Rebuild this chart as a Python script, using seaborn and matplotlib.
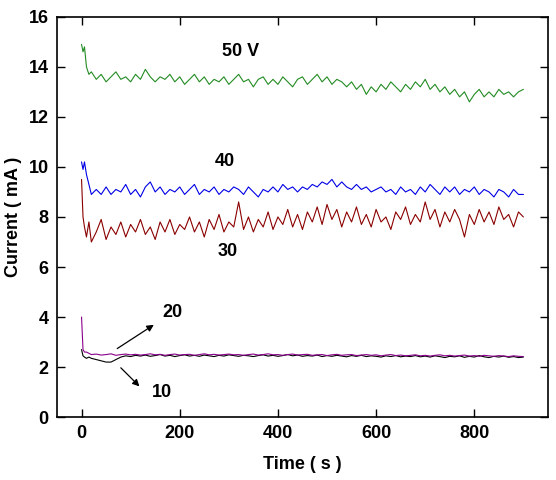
import pandas as pd
import seaborn as sns
import matplotlib.pyplot as plt

# time grid (s): finer at the start-up transient, then every 10 s
time = [0, 3, 6, 10, 15, 20] + list(range(30, 901, 10))

# current (mA)
i_50v = [14.9, 14.6, 14.8, 14.0, 13.7, 13.8,
         13.5, 13.7, 13.4, 13.6, 13.8, 13.5, 13.6, 13.4, 13.7, 13.5,
         13.9, 13.6, 13.4, 13.6, 13.5, 13.7, 13.4, 13.6, 13.3, 13.5,
         13.7, 13.4, 13.6, 13.3, 13.5, 13.4, 13.6, 13.3, 13.5, 13.7,
         13.4, 13.5, 13.2, 13.5, 13.6, 13.3, 13.5, 13.3, 13.6, 13.4,
         13.2, 13.5, 13.6, 13.3, 13.5, 13.7, 13.4, 13.6, 13.3, 13.5,
         13.4, 13.2, 13.4, 13.1, 13.3, 12.9, 13.2, 13.0, 13.3, 13.1,
         13.4, 13.2, 13.0, 13.3, 13.1, 13.4, 13.2, 13.5, 13.1, 13.3,
         13.0, 13.2, 12.9, 13.1, 12.8, 13.0, 12.6, 12.9, 13.1, 12.8,
         13.0, 12.8, 13.1, 12.9, 13.0, 12.8, 13.0, 13.1]
i_40v = [10.2, 9.9, 10.2, 9.7, 9.3, 8.9,
         9.1, 8.9, 9.2, 8.9, 9.1, 9.0, 9.3, 8.9, 9.1, 8.8,
         9.2, 9.4, 9.0, 9.2, 8.9, 9.1, 9.0, 9.2, 8.9, 9.1,
         9.3, 8.9, 9.1, 9.0, 9.2, 8.9, 9.1, 9.0, 9.2, 9.1,
         8.9, 9.2, 9.0, 8.8, 9.1, 9.0, 9.2, 9.0, 9.3, 9.1,
         9.2, 9.0, 9.2, 9.1, 9.3, 9.2, 9.4, 9.3, 9.5, 9.2,
         9.4, 9.2, 9.1, 9.3, 9.1, 9.2, 9.0, 9.1, 9.2, 9.0,
         9.1, 8.9, 9.2, 9.0, 9.1, 8.9, 9.2, 9.0, 9.3, 9.1,
         8.9, 9.2, 9.0, 9.2, 8.9, 9.1, 9.0, 9.2, 8.9, 9.1,
         9.0, 8.8, 9.1, 9.0, 8.8, 9.1, 8.9, 8.9]
i_30v = [9.5, 8.0, 7.6, 7.2, 7.8, 7.0,
         7.4, 7.9, 7.1, 7.6, 7.3, 7.8, 7.2, 7.7, 7.4, 7.9,
         7.3, 7.6, 7.1, 7.8, 7.4, 7.9, 7.3, 7.7, 7.5, 8.0,
         7.4, 7.8, 7.2, 7.9, 7.5, 8.1, 7.4, 7.8, 7.6, 8.6,
         7.5, 8.0, 7.4, 7.9, 7.6, 8.2, 7.5, 8.0, 7.7, 8.3,
         7.6, 8.1, 7.5, 8.2, 7.8, 8.4, 7.7, 8.5, 7.9, 8.3,
         7.6, 8.2, 7.8, 8.4, 7.7, 8.1, 7.6, 8.3, 7.8, 8.0,
         7.5, 8.2, 7.9, 8.4, 7.7, 8.1, 7.8, 8.6, 7.9, 8.3,
         7.6, 8.2, 7.8, 8.3, 7.9, 7.2, 8.1, 7.7, 8.3, 7.8,
         8.2, 7.7, 8.4, 7.9, 8.1, 7.6, 8.2, 8.0]
i_20v = [4.0, 2.7, 2.6, 2.6, 2.55, 2.5,
         2.52, 2.48, 2.5, 2.53, 2.47, 2.5, 2.52, 2.49, 2.51, 2.48,
         2.5, 2.53, 2.49, 2.51, 2.47, 2.5, 2.52, 2.48, 2.5, 2.51,
         2.47, 2.5, 2.53, 2.49, 2.51, 2.48, 2.5, 2.52, 2.49, 2.5,
         2.47, 2.5, 2.52, 2.48, 2.5, 2.53, 2.49, 2.5, 2.47, 2.5,
         2.52, 2.48, 2.5, 2.51, 2.47, 2.49, 2.5, 2.46, 2.49, 2.51,
         2.47, 2.49, 2.5, 2.46, 2.48, 2.5, 2.47, 2.49, 2.45, 2.48,
         2.5, 2.46, 2.48, 2.45, 2.47, 2.49, 2.45, 2.47, 2.44, 2.47,
         2.49, 2.45, 2.47, 2.44, 2.46, 2.48, 2.44, 2.46, 2.43, 2.47,
         2.45, 2.43, 2.46, 2.44, 2.42, 2.45, 2.43, 2.42]
i_10v = [2.7, 2.45, 2.4, 2.35, 2.4, 2.35,
         2.3, 2.25, 2.2, 2.2, 2.3, 2.4, 2.45, 2.42, 2.47, 2.44,
         2.48, 2.43, 2.46, 2.5, 2.44, 2.47, 2.42, 2.46, 2.49, 2.44,
         2.47, 2.43, 2.48, 2.45, 2.42, 2.47, 2.44, 2.49, 2.46, 2.43,
         2.47, 2.45, 2.42, 2.46, 2.49, 2.44, 2.47, 2.43, 2.46, 2.5,
         2.45, 2.48, 2.43, 2.46, 2.44, 2.48, 2.42, 2.46, 2.43, 2.47,
         2.44, 2.41, 2.46, 2.43, 2.47, 2.42, 2.45, 2.43, 2.4, 2.45,
         2.42, 2.46, 2.41, 2.44, 2.42, 2.46, 2.41, 2.44, 2.4, 2.45,
         2.42, 2.38, 2.43, 2.41, 2.45, 2.39, 2.43, 2.4, 2.46, 2.41,
         2.38, 2.43, 2.4, 2.44, 2.39, 2.42, 2.38, 2.4]

series = {"10": i_10v, "20": i_20v, "30": i_30v, "40": i_40v, "50 V": i_50v}
colors = {"10": "black", "20": "#8b008b", "30": "#8b0000", "40": "#0000e6", "50 V": "#228b22"}

rows = []
for name, vals in series.items():
    for t, v in zip(time, vals):
        rows.append({"time": t, "current": v, "volt": name})
df = pd.DataFrame(rows)

sns.set_style("ticks")
plt.rcParams["font.family"] = ["Liberation Sans", "DejaVu Sans"]
plt.rcParams["font.weight"] = "bold"
plt.rcParams["text.color"] = "black"
plt.rcParams["axes.labelcolor"] = "black"
plt.rcParams["axes.edgecolor"] = "black"
plt.rcParams["xtick.color"] = "black"
plt.rcParams["ytick.color"] = "black"

fig = plt.figure(figsize=(5.56, 4.80), dpi=100)
ax = fig.add_axes([0.1025, 0.131, 0.883, 0.834])

sns.lineplot(data=df, x="time", y="current", hue="volt", palette=colors,
             linewidth=0.8, legend=False, ax=ax, estimator=None)

ax.set_xlim(-50, 950)
ax.set_ylim(0, 16)
ax.set_xticks([0, 200, 400, 600, 800])
ax.set_yticks(range(0, 17, 2))
ax.tick_params(direction="in", top=True, right=True, length=6, width=1,
               labelsize=13, pad=6)
for lab in ax.get_xticklabels() + ax.get_yticklabels():
    lab.set_fontweight("bold")
for sp in ax.spines.values():
    sp.set_linewidth(1.2)

ax.set_xlabel("Time ( s )", fontsize=13, fontweight="bold", labelpad=10)
ax.set_ylabel("Current ( mA )", fontsize=13, fontweight="bold", labelpad=5)

ax.text(323, 14.6, "50 V", fontsize=13, fontweight="bold", ha="center", va="center")
ax.text(292, 10.2, "40", fontsize=13, fontweight="bold", ha="center", va="center")
ax.text(298, 6.6, "30", fontsize=13, fontweight="bold", ha="center", va="center")
ax.text(185, 4.2, "20", fontsize=13, fontweight="bold", ha="center", va="center")
ax.text(164, 1.0, "10", fontsize=13, fontweight="bold", ha="center", va="center")

ax.annotate("", xy=(152, 3.75), xytext=(68, 2.68),
            arrowprops=dict(arrowstyle="-|>", color="black", lw=0.9, mutation_scale=10))
ax.annotate("", xy=(122, 1.15), xytext=(76, 2.05),
            arrowprops=dict(arrowstyle="-|>", color="black", lw=0.9, mutation_scale=10))

fig.savefig("out.png", dpi=100)
